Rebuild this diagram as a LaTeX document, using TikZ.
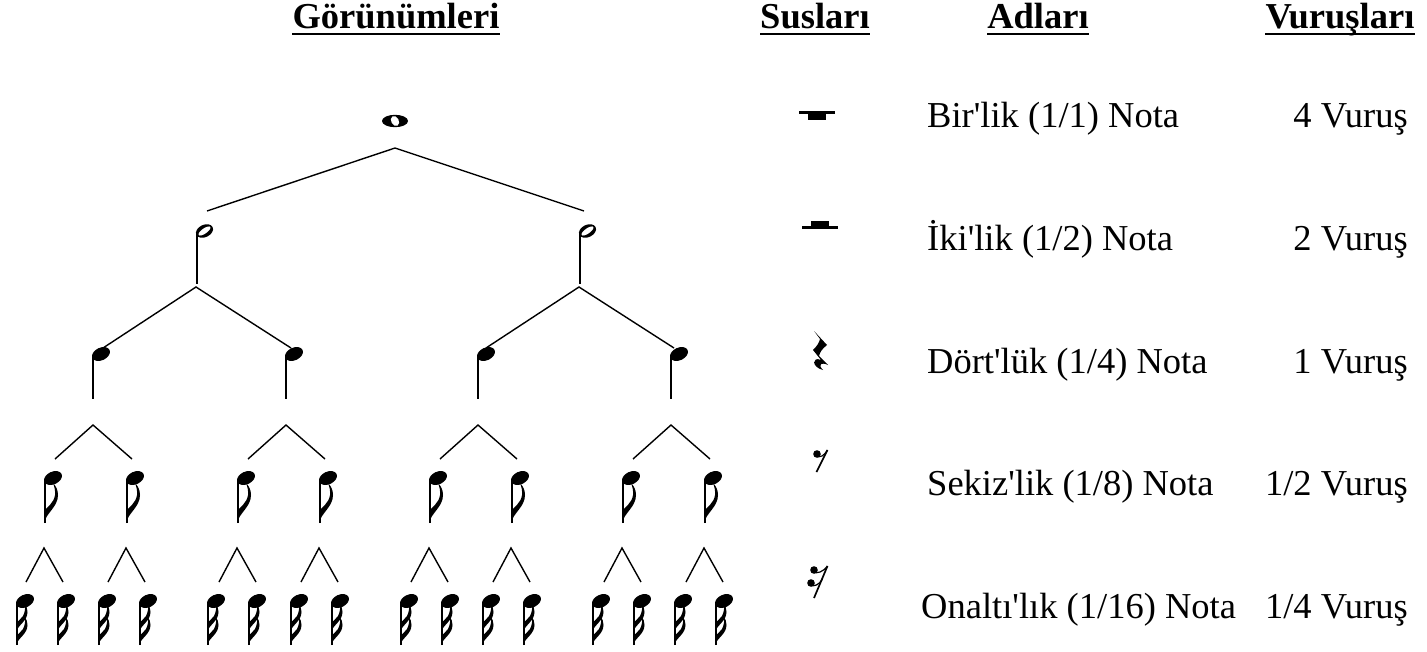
\documentclass[tikz,border=0pt]{standalone}
\usepackage{fontspec}
\setmainfont{Liberation Serif}[Ligatures=TeXOff]
\begin{document}
\begin{tikzpicture}[x=1pt,y=-1pt,
  conn/.style={line width=1.4pt},
  stemline/.style={line width=1.8pt},
  hdr/.style={font=\fontsize{36.5}{40}\selectfont\bfseries, inner sep=0pt, anchor=base},
  txt/.style={font=\fontsize{36.5}{42}\selectfont, inner sep=0pt, anchor=base west},
  beat/.style={font=\fontsize{36.5}{42}\selectfont, inner sep=0pt, anchor=base east},
  ulined/.style={line width=2.8pt},
  wholenote/.pic={
    \fill (0,0) ellipse [x radius=13, y radius=6.2];
    \fill[white, rotate=-60] (0,0) ellipse [x radius=5.2, y radius=3.8];
  },
  halfnote/.pic={
    \fill[shift={(8.5,0)}, rotate=25] (0,0) ellipse [x radius=9, y radius=6.2];
    \fill[white, shift={(8.5,0)}, rotate=35] (0,0) ellipse [x radius=7, y radius=2.6];
    \draw[stemline] (0.9,2) -- (0.9,53);
  },
  quarternote/.pic={
    \fill[shift={(9,0)}, rotate=25] (0,0) ellipse [x radius=9.5, y radius=6.3];
    \draw[stemline] (0.9,2) -- (0.9,45);
  },
  eighthnote/.pic={
    \fill[shift={(9,0)}, rotate=25] (0,0) ellipse [x radius=9.5, y radius=6.3];
    \draw[stemline] (0.9,2) -- (0.9,45);
    \fill (0,45) .. controls (2,35) and (14,29) .. (14,17) .. controls (14,12) and (12,8) .. (9,5)
      .. controls (10.5,9) and (11.5,13) .. (11,17) .. controls (10,25) and (3,29) .. (0,33) -- cycle;
  },
  sixteenthnote/.pic={
    \fill[shift={(9,0)}, rotate=25] (0,0) ellipse [x radius=9.5, y radius=6.3];
    \draw[stemline] (0.9,2) -- (0.9,44);
    \fill (0,44) .. controls (2,37) and (11.5,33) .. (11.5,24) .. controls (11.5,21) and (10.5,18) .. (9,16)
      .. controls (9.5,20) and (9,24) .. (7,28) .. controls (5,31) and (2,33) .. (0,35) -- cycle;
    \fill (0,31) .. controls (2,24) and (11.5,20) .. (11.5,11) .. controls (11.5,8) and (10.5,5) .. (9,3)
      .. controls (9.5,7) and (9,11) .. (7,15) .. controls (5,18) and (2,20) .. (0,22) -- cycle;
  }
]
\useasboundingbox (0,0) rectangle (1427,651);

% headers
\node[hdr] (hG) at (396,28) {Görünümleri};
\node[hdr] (hS) at (815,28) {Susları};
\node[hdr] (hA) at (1038,28) {Adları};
\node[hdr] (hV) at (1340,28) {Vuruşları};
\foreach \h in {hG,hS,hA,hV}{
  \draw[ulined] ([yshift=-6pt]\h.base west) -- ([yshift=-6pt]\h.base east);
}

% level 0: whole note
\pic at (395,121) {wholenote};
\coordinate (a0) at (395,148);
\coordinate (e0l) at (207,211);
\coordinate (e0r) at (584,211);
\draw[conn] (e0l) -- (a0) -- (e0r);

% level 1: half notes
\foreach \s/\i in {196/1,579/2}{
  \pic at (\s,231) {halfnote};
  \coordinate (a1\i) at (\s,287);
  \coordinate (e1\i l) at (\s-93,348);
  \coordinate (e1\i r) at (\s+95,348);
  \draw[conn] (e1\i l) -- (a1\i) -- (e1\i r);
}

% level 2: quarter notes
\foreach \s/\i in {92/1,285/2,477/3,670/4}{
  \pic at (\s,354) {quarternote};
  \coordinate (a2\i) at (\s+1,425);
  \coordinate (e2\i l) at (\s-37,459);
  \coordinate (e2\i r) at (\s+40,459);
  \draw[conn] (e2\i l) -- (a2\i) -- (e2\i r);
}

% level 3: eighth notes
\foreach \s/\i in {44/1,126/2,237/3,319/4,429/5,511/6,622/7,704/8}{
  \pic at (\s,478) {eighthnote};
  \coordinate (a3\i) at (\s,548);
  \coordinate (e3\i l) at (\s-18,582);
  \coordinate (e3\i r) at (\s+19,582);
  \draw[conn] (e3\i l) -- (a3\i) -- (e3\i r);
}

% level 4: sixteenth notes
\foreach \s in {16,57,98,139,207,248,290,331,400,441,482,523,592,633,674,715}{
  \pic at (\s,601) {sixteenthnote};
}

% rests
\fill (799,111) rectangle (835,114);
\fill (808,114) rectangle (826,119.5);
\fill (811,220.5) rectangle (829,226);
\fill (802,226) rectangle (838,229);
% quarter rest
\fill (814,331) -- (827,345) .. controls (822,349) and (820,352) .. (819,356) -- (828,365)
  .. controls (822,362) and (817,364) .. (823,370) .. controls (811,367) and (812,356) .. (821,360)
  -- (813,350) .. controls (817,346) and (819,343) .. (820,339) -- cycle;
% eighth rest
\fill (817,454) circle [radius=3.8];
\draw[line width=1.2pt] (816,456) .. controls (820,458) and (824,456) .. (827.5,450);
\draw[line width=1.7pt] (827.5,450) -- (816.5,472);
% sixteenth rest
\fill (814,570) circle [radius=3.8];
\fill (811,583) circle [radius=3.8];
\draw[line width=1.2pt] (813,572) .. controls (817,574) and (823,572) .. (827.5,566);
\draw[line width=1.2pt] (810,585) .. controls (814,587) and (819,585) .. (822.5,579);
\draw[line width=1.7pt] (827.5,566) -- (814,598);

% names
\node[txt] (n1) at (927,127) {Bir'lik (1/1) Nota};
\node[txt] (n2) at (927,250) {İki'lik (1/2) Nota};
\node[txt] (n3) at (927,373) {Dört'lük (1/4) Nota};
\node[txt] (n4) at (927,495) {Sekiz'lik (1/8) Nota};
\node[txt] (n5) at (921,618) {Onaltı'lık (1/16) Nota};

% beats
\node[beat] (b1) at (1408,127) {4 Vuruş};
\node[beat] (b2) at (1408,250) {2 Vuruş};
\node[beat] (b3) at (1408,373) {1 Vuruş};
\node[beat] (b4) at (1408,495) {1/2 Vuruş};
\node[beat] (b5) at (1408,618) {1/4 Vuruş};
\end{tikzpicture}
\end{document}
